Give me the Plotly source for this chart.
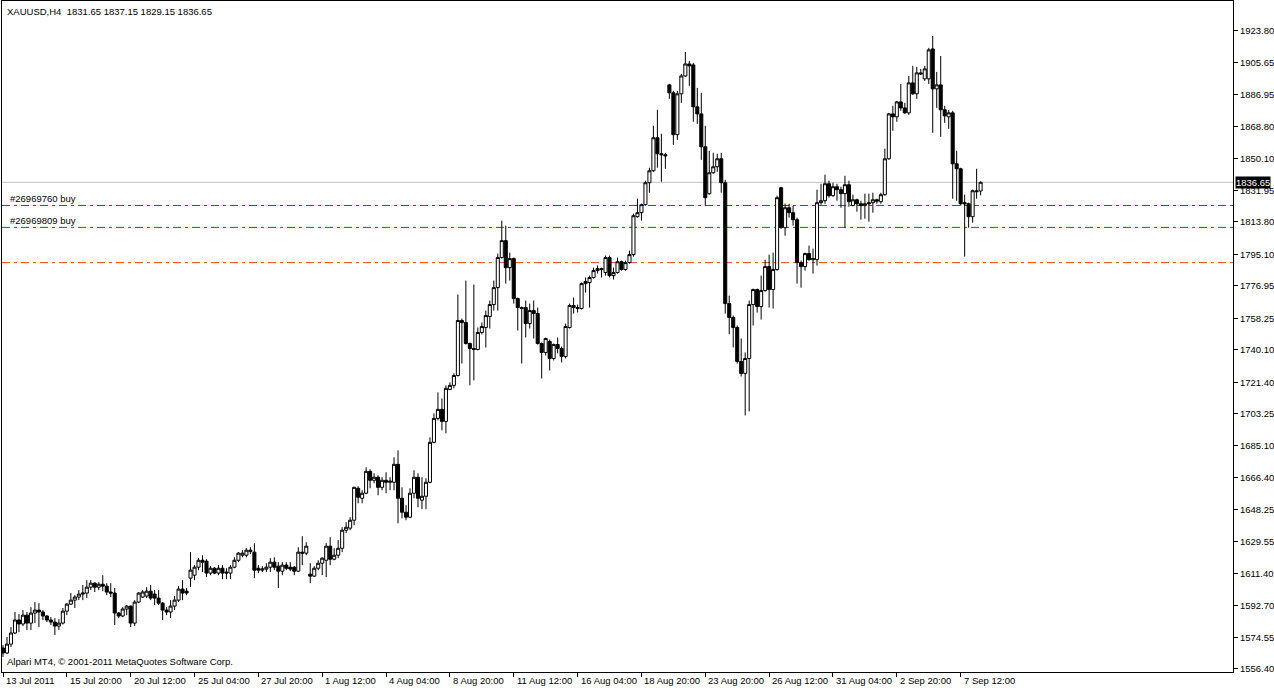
import plotly.graph_objects as go

# ---------------- data (XAUUSD H4) ----------------
bar_index = list(range(246))

open_ = [
    1568.45, 1565.6, 1570.7, 1577.1, 1584.6, 1582.3, 1587.4, 1582.8, 1588.6, 1590.3,
    1589.2, 1586.9, 1584.6, 1583.4, 1581.1, 1582.8, 1589.7, 1593.75, 1596.05, 1597.8,
    1599.5, 1600.1, 1603.5, 1605.8, 1603.5, 1605.2, 1604.1, 1600.7, 1600.1, 1588.6,
    1586.9, 1590.9, 1592.6, 1582.8, 1594.9, 1597.8, 1598.4, 1601.2, 1599.5, 1597.2,
    1594.3, 1590.3, 1589.2, 1592.6, 1596.05, 1602.4, 1601.2, 1608.7, 1610.4, 1615.0,
    1619.0, 1618.5, 1611.6, 1614.4, 1611.6, 1614.4, 1612.2, 1611.6, 1615.0, 1619.0,
    1621.9, 1621.9, 1624.8, 1623.65, 1614.4, 1613.3, 1613.9, 1615.0, 1617.9, 1615.6,
    1612.7, 1616.2, 1615.0, 1615.0, 1612.7, 1623.65, 1623.1, 1611.0, 1609.85, 1614.4,
    1617.3, 1619.0, 1627.1, 1619.6, 1621.9, 1625.9, 1636.3, 1637.5, 1642.05, 1660.45,
    1654.7, 1657.6, 1670.2, 1665.05, 1666.8, 1661.0, 1665.05, 1663.9, 1663.9, 1674.25,
    1654.7, 1646.65, 1643.8, 1657.6, 1666.8, 1653.6, 1655.85, 1663.9, 1686.9, 1700.7,
    1705.9, 1698.95, 1717.4, 1719.7, 1725.4, 1757.05, 1755.9, 1743.8, 1740.95, 1740.4,
    1750.15, 1753.0, 1759.35, 1766.25, 1776.0, 1793.3, 1803.05, 1787.5, 1792.7, 1769.7,
    1764.5, 1764.5, 1755.3, 1762.8, 1761.05, 1743.8, 1738.65, 1745.0, 1735.2, 1743.25,
    1740.95, 1736.35, 1753.0, 1765.7, 1764.5, 1764.0, 1778.3, 1778.9, 1781.8, 1785.8,
    1786.95, 1784.7, 1793.3, 1782.9, 1784.65, 1790.9, 1786.4, 1790.4, 1795.0, 1816.85,
    1819.15, 1823.75, 1836.4, 1843.3, 1862.3, 1853.1, 1852.5, 1892.75, 1888.15, 1864.1,
    1887.6, 1897.9, 1904.8, 1904.25, 1880.1, 1876.05, 1857.1, 1830.05, 1842.15, 1845.6,
    1850.2, 1836.4, 1766.8, 1758.8, 1753.0, 1733.5, 1726.6, 1735.2, 1766.25, 1774.9,
    1765.1, 1774.3, 1788.1, 1774.9, 1786.4, 1833.5, 1810.5, 1822.0, 1819.15, 1815.1,
    1790.4, 1788.1, 1795.6, 1792.1, 1792.1, 1824.9, 1826.05, 1835.8, 1828.95, 1834.1,
    1832.4, 1830.1, 1835.25, 1823.3, 1826.6, 1824.3, 1823.2, 1824.9, 1824.9, 1826.6,
    1825.5, 1829.5, 1850.2, 1876.05, 1874.35, 1882.95, 1879.5, 1876.65, 1893.9, 1887.6,
    1899.65, 1896.2, 1896.2, 1913.45, 1890.45, 1892.75, 1878.4, 1874.35, 1876.65, 1847.3,
    1844.45, 1824.9, 1824.3, 1816.85, 1831.2, 1831.65,
]

high = [
    1570.2, 1574.8, 1580.5, 1589.2, 1588.0, 1590.3, 1589.2, 1592.0, 1594.9, 1594.3,
    1590.3, 1587.4, 1586.3, 1585.7, 1585.1, 1591.5, 1594.3, 1600.1, 1598.9, 1601.8,
    1604.7, 1607.5, 1607.5, 1606.4, 1606.4, 1610.4, 1605.8, 1605.8, 1603.0, 1589.2,
    1592.0, 1593.2, 1592.9, 1596.05, 1600.7, 1601.8, 1603.5, 1604.7, 1601.8, 1601.8,
    1594.9, 1592.0, 1596.05, 1598.4, 1604.1, 1607.5, 1603.0, 1623.7, 1616.2, 1620.2,
    1621.9, 1619.6, 1615.6, 1615.0, 1616.2, 1616.2, 1614.4, 1616.2, 1620.7, 1623.7,
    1624.8, 1626.0, 1626.5, 1628.8, 1616.2, 1615.6, 1617.3, 1620.2, 1620.7, 1617.9,
    1617.9, 1617.9, 1617.9, 1615.6, 1626.5, 1632.85, 1629.4, 1617.3, 1615.6, 1619.0,
    1620.7, 1628.8, 1632.3, 1625.9, 1630.6, 1638.0, 1640.9, 1643.8, 1661.3, 1661.6,
    1659.3, 1672.5, 1671.4, 1669.1, 1667.9, 1666.8, 1669.65, 1666.8, 1678.3, 1682.3,
    1661.0, 1650.7, 1660.45, 1670.8, 1669.1, 1666.8, 1666.2, 1689.8, 1703.6, 1715.65,
    1712.2, 1719.7, 1721.4, 1726.6, 1772.0, 1758.2, 1780.05, 1744.4, 1777.75, 1753.0,
    1755.9, 1762.8, 1768.55, 1780.05, 1795.6, 1814.55, 1811.7, 1796.1, 1793.3, 1770.3,
    1765.1, 1768.55, 1766.8, 1768.55, 1764.5, 1744.4, 1747.3, 1746.1, 1743.8, 1747.3,
    1742.1, 1755.3, 1766.8, 1770.3, 1766.25, 1778.9, 1781.8, 1782.9, 1787.5, 1788.7,
    1787.5, 1794.45, 1794.45, 1787.5, 1793.3, 1791.55, 1791.55, 1797.3, 1818.6, 1827.2,
    1824.3, 1837.55, 1845.05, 1869.2, 1878.4, 1864.6, 1853.65, 1893.3, 1889.3, 1889.3,
    1899.1, 1911.7, 1906.55, 1905.4, 1891.0, 1888.15, 1869.2, 1854.8, 1853.65, 1853.1,
    1853.65, 1838.1, 1771.4, 1759.9, 1754.2, 1746.7, 1738.65, 1768.55, 1775.45, 1775.45,
    1782.95, 1792.1, 1795.0, 1796.15, 1828.95, 1834.1, 1824.3, 1824.3, 1823.2, 1816.3,
    1791.55, 1796.15, 1800.2, 1798.45, 1832.4, 1835.8, 1841.0, 1837.55, 1836.4, 1835.8,
    1834.1, 1840.4, 1837.55, 1829.5, 1827.2, 1826.05, 1830.1, 1830.1, 1830.65, 1827.2,
    1830.65, 1855.95, 1876.65, 1880.7, 1883.55, 1893.3, 1882.4, 1897.9, 1903.7, 1903.1,
    1901.95, 1903.7, 1914.05, 1920.9, 1900.2, 1909.4, 1880.7, 1878.4, 1877.8, 1854.8,
    1845.05, 1829.5, 1824.9, 1832.4, 1844.45, 1837.15,
]

low = [
    1563.3, 1565.0, 1569.0, 1576.5, 1577.6, 1581.1, 1578.8, 1578.8, 1582.8, 1580.5,
    1584.6, 1583.4, 1581.7, 1575.9, 1578.8, 1582.0, 1587.4, 1593.2, 1591.5, 1596.05,
    1596.05, 1597.2, 1601.8, 1600.7, 1601.8, 1601.2, 1598.9, 1597.8, 1581.7, 1585.7,
    1586.3, 1587.4, 1580.5, 1581.1, 1594.3, 1597.2, 1597.2, 1596.05, 1593.2, 1593.2,
    1584.6, 1587.4, 1585.7, 1590.3, 1594.9, 1596.05, 1598.9, 1603.5, 1607.5, 1613.3,
    1612.2, 1609.3, 1610.4, 1611.0, 1610.4, 1608.1, 1608.1, 1608.1, 1614.4, 1617.9,
    1620.7, 1620.7, 1622.5, 1608.7, 1611.6, 1612.2, 1612.2, 1612.2, 1613.3, 1602.95,
    1610.4, 1613.3, 1612.7, 1610.4, 1612.2, 1616.2, 1621.9, 1605.8, 1609.3, 1613.3,
    1610.4, 1609.3, 1616.2, 1619.0, 1620.2, 1623.65, 1634.6, 1636.3, 1639.2, 1651.8,
    1651.8, 1657.0, 1660.45, 1663.3, 1656.4, 1659.3, 1657.6, 1659.3, 1659.3, 1640.3,
    1643.2, 1642.05, 1643.2, 1654.7, 1649.5, 1648.4, 1648.4, 1663.3, 1686.3, 1699.55,
    1693.8, 1692.1, 1716.9, 1718.0, 1724.8, 1732.3, 1743.2, 1719.7, 1722.55, 1739.8,
    1749.0, 1741.5, 1752.45, 1762.8, 1762.8, 1792.7, 1778.3, 1780.05, 1766.8, 1751.3,
    1732.3, 1747.3, 1752.45, 1746.7, 1743.2, 1723.7, 1736.9, 1728.3, 1734.05, 1738.1,
    1732.9, 1735.2, 1752.45, 1761.05, 1761.65, 1763.4, 1773.15, 1764.5, 1781.2, 1784.1,
    1781.8, 1782.9, 1781.8, 1780.65, 1784.1, 1785.8, 1785.8, 1789.8, 1793.85, 1816.3,
    1814.55, 1823.2, 1830.65, 1842.7, 1845.05, 1836.95, 1844.45, 1884.7, 1858.25, 1861.1,
    1882.4, 1897.35, 1892.2, 1871.5, 1870.3, 1849.6, 1823.2, 1829.5, 1841.6, 1842.7,
    1830.65, 1761.05, 1749.3, 1741.5, 1732.3, 1724.85, 1702.4, 1704.7, 1754.2, 1761.65,
    1757.6, 1773.7, 1764.5, 1763.95, 1785.8, 1809.95, 1805.9, 1816.3, 1811.7, 1778.3,
    1776.0, 1785.8, 1791.55, 1784.1, 1788.7, 1823.75, 1824.3, 1827.8, 1828.35, 1826.05,
    1822.0, 1810.5, 1822.6, 1822.8, 1819.7, 1815.1, 1815.7, 1813.95, 1819.15, 1824.3,
    1824.3, 1828.95, 1849.6, 1866.3, 1871.5, 1877.8, 1876.05, 1875.5, 1887.0, 1884.7,
    1898.5, 1895.05, 1893.3, 1865.15, 1879.5, 1862.85, 1870.9, 1867.45, 1827.2, 1826.05,
    1823.2, 1793.85, 1810.5, 1813.4, 1827.2, 1829.15,
]

close = [
    1565.6, 1570.7, 1577.1, 1584.6, 1582.3, 1587.4, 1582.8, 1588.6, 1590.3, 1589.2,
    1586.9, 1584.6, 1583.4, 1581.1, 1582.8, 1589.7, 1593.75, 1596.05, 1597.8, 1599.5,
    1600.1, 1603.5, 1605.8, 1603.5, 1605.2, 1604.1, 1600.7, 1600.1, 1588.6, 1586.9,
    1590.9, 1592.6, 1582.8, 1594.9, 1600.1, 1600.7, 1601.2, 1597.2, 1597.2, 1594.3,
    1590.3, 1589.2, 1592.6, 1596.05, 1602.4, 1600.1, 1600.1, 1613.3, 1615.0, 1619.0,
    1617.9, 1611.6, 1614.4, 1611.6, 1614.4, 1611.6, 1611.6, 1615.0, 1619.0, 1623.1,
    1623.1, 1624.8, 1624.0, 1613.3, 1613.3, 1614.0, 1615.0, 1617.9, 1615.0, 1612.7,
    1616.2, 1614.4, 1613.9, 1612.7, 1623.65, 1623.1, 1627.1, 1609.85, 1614.4, 1617.3,
    1620.2, 1627.1, 1619.6, 1621.9, 1625.9, 1636.3, 1638.0, 1642.05, 1661.0, 1655.3,
    1657.6, 1670.2, 1665.05, 1666.8, 1661.0, 1665.05, 1663.9, 1664.5, 1674.25, 1654.7,
    1646.65, 1643.8, 1657.6, 1666.8, 1654.7, 1655.85, 1663.9, 1686.9, 1700.7, 1705.9,
    1698.95, 1718.0, 1719.7, 1725.4, 1757.05, 1755.9, 1743.8, 1740.95, 1740.4, 1750.15,
    1753.6, 1759.9, 1766.25, 1776.0, 1793.3, 1803.05, 1787.5, 1792.7, 1769.7, 1764.5,
    1764.0, 1755.3, 1762.8, 1761.05, 1743.8, 1738.65, 1746.7, 1735.2, 1743.25, 1740.95,
    1736.35, 1753.6, 1765.7, 1764.5, 1764.0, 1778.3, 1779.5, 1781.8, 1785.8, 1786.95,
    1786.4, 1793.3, 1782.9, 1784.65, 1790.9, 1786.4, 1790.4, 1795.0, 1817.4, 1819.15,
    1823.75, 1836.4, 1843.3, 1862.3, 1853.1, 1852.5, 1851.9, 1888.15, 1864.1, 1887.6,
    1897.9, 1904.8, 1903.7, 1880.1, 1876.05, 1857.1, 1827.8, 1842.15, 1845.6, 1850.2,
    1836.4, 1766.8, 1758.8, 1753.0, 1733.5, 1726.6, 1735.2, 1766.25, 1774.9, 1765.1,
    1774.3, 1788.1, 1774.9, 1786.4, 1827.8, 1810.5, 1822.0, 1819.15, 1815.1, 1790.4,
    1788.1, 1795.6, 1792.1, 1792.7, 1824.9, 1826.05, 1835.8, 1828.95, 1834.1, 1832.4,
    1830.1, 1835.25, 1825.5, 1826.6, 1824.3, 1823.2, 1824.3, 1824.3, 1826.6, 1825.8,
    1829.5, 1850.2, 1876.05, 1874.35, 1882.95, 1879.5, 1876.65, 1893.9, 1887.6, 1899.65,
    1899.1, 1901.95, 1912.9, 1890.45, 1892.75, 1878.4, 1874.9, 1876.65, 1847.3, 1844.45,
    1824.3, 1824.3, 1816.85, 1831.8, 1831.65, 1836.65,
]

x_tick_positions = [0, 16, 32, 48, 64, 80, 96, 112, 128, 144, 160, 176, 192, 208, 224, 240]
x_tick_labels = [
    "13 Jul 2011", "15 Jul 20:00", "20 Jul 12:00", "25 Jul 04:00", "27 Jul 20:00",
    "1 Aug 12:00", "4 Aug 04:00", "8 Aug 20:00", "11 Aug 12:00", "16 Aug 04:00",
    "18 Aug 20:00", "23 Aug 20:00", "26 Aug 12:00", "31 Aug 04:00", "2 Sep 20:00",
    "7 Sep 12:00",
]

y_tick_values = [1923.80, 1905.65, 1886.95, 1868.80, 1850.10, 1831.95, 1813.80, 1795.10,
                 1776.95, 1758.25, 1740.10, 1721.40, 1703.25, 1685.10, 1666.40, 1648.25,
                 1629.55, 1611.40, 1592.70, 1574.55, 1556.40]
y_tick_labels = ["%.2f" % v for v in y_tick_values]

current_price = 1836.65
order_levels = [1823.3, 1810.7]
order_labels = ["#26969760 buy", "#26969809 buy"]
stop_level = 1790.4

title_text = "XAUUSD,H4\u00a0\u00a01831.65 1837.15 1829.15 1836.65"
copyright_text = "Alpari MT4, \u00a9 2001-2011 MetaQuotes Software Corp."

FONT = "Tahoma, 'Liberation Sans', Arial, sans-serif"

fig = go.Figure()
fig.add_trace(go.Candlestick(
    x=bar_index, open=open_, high=high, low=low, close=close,
    increasing=dict(line=dict(color="black", width=1), fillcolor="white"),
    decreasing=dict(line=dict(color="black", width=1), fillcolor="black"),
    whiskerwidth=0, showlegend=False, hoverinfo="skip",
))

shapes = []
shapes.append(dict(type="line", xref="paper", x0=0, x1=1, yref="y",
                   y0=current_price, y1=current_price,
                   line=dict(color="#C0C0C0", width=1), layer="below"))
for lvl in order_levels:
    shapes.append(dict(type="line", xref="paper", x0=0, x1=1, yref="y", y0=lvl, y1=lvl,
                       line=dict(color="#008000", width=1, dash="8px,4px,3px,4px"),
                       layer="below"))
shapes.append(dict(type="line", xref="paper", x0=0, x1=1, yref="y",
                   y0=stop_level, y1=stop_level,
                   line=dict(color="#FF4500", width=1, dash="8px,4px,3px,4px"),
                   layer="below"))

annotations = []
annotations.append(dict(text=title_text, xref="paper", yref="paper", x=0, y=1,
                        xanchor="left", yanchor="top", xshift=3, yshift=-3,
                        showarrow=False, font=dict(family=FONT, size=9.5, color="black")))
annotations.append(dict(text=copyright_text, xref="paper", yref="paper", x=0, y=0,
                        xanchor="left", yanchor="bottom", xshift=3, yshift=3,
                        showarrow=False, font=dict(family=FONT, size=9.5, color="black")))
for lvl, lab in zip(order_levels, order_labels):
    annotations.append(dict(text=lab, xref="paper", yref="y", x=0, y=lvl,
                            xanchor="left", yanchor="bottom", xshift=6, yshift=-1,
                            showarrow=False, font=dict(family=FONT, size=9.5, color="black")))
for pos, lab in zip(x_tick_positions, x_tick_labels):
    annotations.append(dict(text=lab, xref="x", yref="paper", x=pos, y=0,
                            xanchor="left", yanchor="top", xshift=1, yshift=-1,
                            showarrow=False, font=dict(family=FONT, size=9.5, color="black")))
annotations.append(dict(text="%.2f" % current_price, xref="paper", yref="y", x=1,
                        y=current_price, xanchor="left", yanchor="middle", xshift=2,
                        showarrow=False, bgcolor="black", borderpad=0,
                        font=dict(family=FONT, size=9.5, color="white")))

fig.update_layout(
    width=1274, height=688,
    margin=dict(l=2, r=38, t=0, b=16),
    paper_bgcolor="white", plot_bgcolor="white",
    boxgap=0.15, boxgroupgap=0.1,
    shapes=shapes, annotations=annotations,
    font=dict(family=FONT, size=9.5, color="black"),
    xaxis=dict(range=[-0.25, 308.25], showgrid=False, zeroline=False,
               showline=True, linecolor="black", linewidth=1, mirror=True,
               ticks="outside", ticklen=4, tickcolor="black",
               tickvals=x_tick_positions, showticklabels=False,
               rangeslider=dict(visible=False), fixedrange=True),
    yaxis=dict(range=[1554.65, 1941.05], side="right", showgrid=False, zeroline=False,
               showline=True, linecolor="black", linewidth=1, mirror=True,
               ticks="outside", ticklen=4, tickcolor="black",
               tickvals=y_tick_values, ticktext=y_tick_labels,
               tickfont=dict(family=FONT, size=9.5, color="black"), fixedrange=True),
)

fig.write_html("out.html")
